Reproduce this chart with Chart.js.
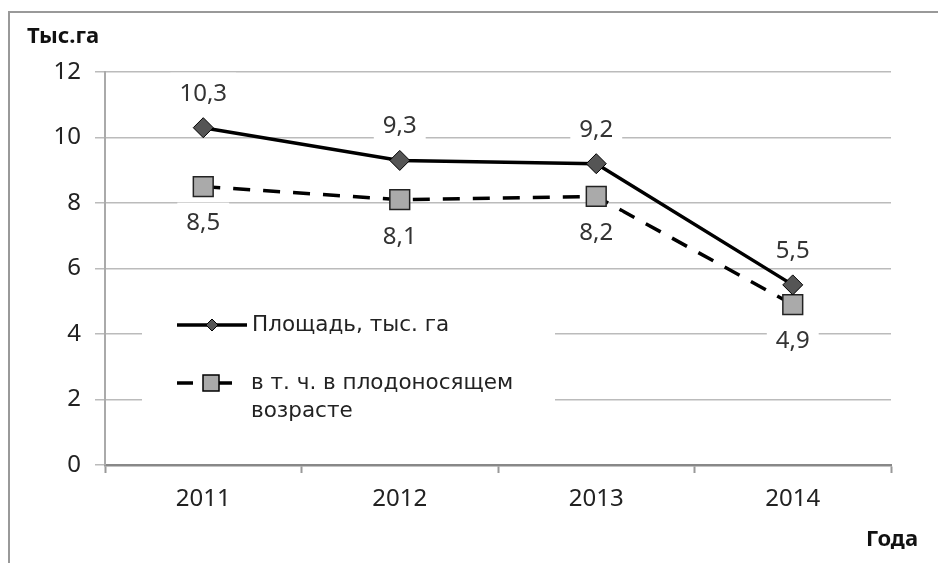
<!DOCTYPE html>
<html>
<head>
<meta charset="utf-8">
<script src="https://cdn.jsdelivr.net/npm/chart.js@4"></script>
<style>
  body { margin: 0; background: #fff; }
  #wrap { width: 938px; height: 563px; }
</style>
</head>
<body>
<div id="wrap"><canvas id="myChart" width="938" height="563"></canvas></div>
<script>
let years = ['2011', '2012', '2013', '2014'];
let area = [10.3, 9.3, 9.2, 5.5];
let fruiting = [8.5, 8.1, 8.2, 4.9];
let yTicks = [0, 2, 4, 6, 8, 10, 12];
let seriesNames = ['Площадь, тыс. га', ['в т. ч. в плодоносящем', 'возрасте']];

let tickFont = { family: 'Noto Sans', size: 24 };

// frame, axis captions, data labels and the legend inside the plot
let extras = {
    id: 'extras',
    beforeDraw(chart) {
        let c = chart.ctx;
        c.save();
        c.fillStyle = '#fff';
        c.fillRect(0, 0, chart.width, chart.height);
        c.strokeStyle = '#999';
        c.lineWidth = 2;
        c.beginPath();
        c.moveTo(9, 563);
        c.lineTo(9, 12);
        c.lineTo(938, 12);
        c.stroke();
        c.fillStyle = '#111';
        c.font = 'bold 22px "Noto Sans"';
        c.textBaseline = 'middle';
        c.textAlign = 'left';
        c.fillText('Тыс.га', 27, 37);
        c.textAlign = 'right';
        c.fillText('Года', 918, 540);
        c.restore();
    },
    afterDatasetsDraw(chart) {
        let c = chart.ctx;
        c.save();
        c.font = '24px "Noto Sans"';
        c.textAlign = 'center';
        c.textBaseline = 'middle';
        chart.data.datasets.forEach((ds, i) => {
            chart.getDatasetMeta(i).data.forEach((pt, j) => {
                let txt = String(ds.data[j]).replace('.', ',');
                let y = i === 0 ? pt.y - 34 : pt.y + 37;
                let w = c.measureText(txt).width + 18;
                c.fillStyle = '#fff';
                c.fillRect(pt.x - w / 2, y - 21, w, 36);
                c.fillStyle = '#333';
                c.fillText(txt, pt.x, y);
            });
        });

        // legend
        let a = chart.chartArea;
        let lx = a.left + 37;
        c.fillStyle = '#fff';
        c.fillRect(lx, 305, 413, 135);
        let d0 = chart.data.datasets[0];
        let d1 = chart.data.datasets[1];
        c.strokeStyle = '#000';
        c.lineWidth = 3.5;
        c.beginPath();
        c.moveTo(lx + 35, 325);
        c.lineTo(lx + 105, 325);
        c.stroke();
        c.fillStyle = d0.pointBackgroundColor;
        c.lineWidth = 1;
        c.beginPath();
        c.moveTo(lx + 70, 319);
        c.lineTo(lx + 76, 325);
        c.lineTo(lx + 70, 331);
        c.lineTo(lx + 64, 325);
        c.closePath();
        c.fill();
        c.stroke();

        c.lineWidth = 3.5;
        c.beginPath();
        c.moveTo(lx + 35, 383);
        c.lineTo(lx + 51, 383);
        c.moveTo(lx + 76, 383);
        c.lineTo(lx + 90, 383);
        c.stroke();
        c.fillStyle = d1.pointBackgroundColor;
        c.lineWidth = 1.5;
        c.fillRect(lx + 61, 375, 16, 16);
        c.strokeRect(lx + 61, 375, 16, 16);

        c.fillStyle = '#222';
        c.font = '21.5px "DejaVu Sans"';
        c.textAlign = 'left';
        c.fillText(seriesNames[0], lx + 110, 325);
        c.fillText(seriesNames[1][0], lx + 109, 383);
        c.fillText(seriesNames[1][1], lx + 109, 411);
        c.restore();
    }
};

let myChart1 = document.getElementById('myChart').getContext('2d');

let chart1 = new Chart(myChart1, {
    type: 'line',
    data: {
        labels: years,
        datasets: [{
            label: 'Площадь, тыс. га',
            data: area,
            borderColor: '#000',
            borderWidth: 3.5,
            pointStyle: 'rectRot',
            pointRadius: 10,
            pointBackgroundColor: '#555',
            pointBorderColor: '#000',
            pointBorderWidth: 1,
            tension: 0
        }, {
            label: 'в т. ч. в плодоносящем возрасте',
            data: fruiting,
            borderColor: '#000',
            borderWidth: 3.5,
            borderDash: [17, 13],
            pointStyle: 'rect',
            pointRadius: 14,
            pointBackgroundColor: '#aaa',
            pointBorderColor: '#222',
            pointBorderWidth: 1.5,
            tension: 0
        }]
    },
    options: {
        responsive: false,
        animation: false,
        layout: { padding: { top: 72, right: 47, left: 0, bottom: 0 } },
        plugins: {
            legend: { display: false },
            tooltip: { enabled: false }
        },
        scales: {
            x: {
                offset: true,
                grid: {
                    offset: true,
                    drawOnChartArea: false,
                    color: '#999',
                    tickLength: 8,
                    tickWidth: 2
                },
                border: { color: '#888', width: 2.5 },
                ticks: { font: tickFont, color: '#222', padding: 12 },
                afterFit(s) { s.height = 98; }
            },
            y: {
                min: 0,
                max: 12,
                afterBuildTicks(s) { s.ticks = yTicks.map(v => ({ value: v })); },
                grid: { color: '#bbb', lineWidth: 1.5, tickLength: 10 },
                border: { color: '#aaa', width: 2 },
                ticks: { font: tickFont, color: '#222', padding: 14 },
                afterFit(s) { s.width = 105; }
            }
        }
    },
    plugins: [extras]
});
</script>
</body>
</html>
